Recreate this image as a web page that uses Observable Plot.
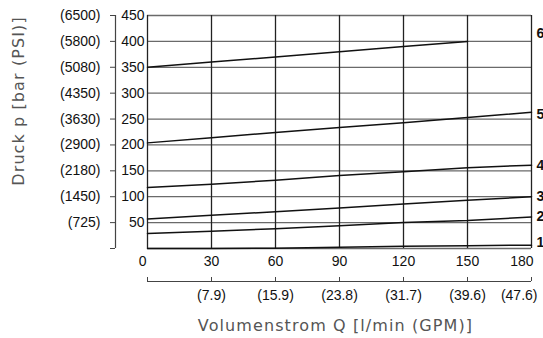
<!DOCTYPE html>
<html><head><meta charset="utf-8">
<script src="https://cdn.jsdelivr.net/npm/d3@7"></script>
<script src="https://cdn.jsdelivr.net/npm/@observablehq/plot@0.6"></script>
<style>
body{margin:0;background:#fff}
#chart svg{display:block}
</style>
</head><body><div id="chart"></div>
<script>
// ---- data ----
const flow = [0, 30, 60, 90, 120, 150, 180];            // l/min
const pressureTicks = [0, 50, 100, 150, 200, 250, 300, 350, 400, 450]; // bar
const psiLabels = ["", "(725)", "(1450)", "(2180)", "(2900)", "(3630)", "(4350)", "(5080)", "(5800)", "(6500)"];
const gpmLabels = ["", "(7.9)", "(15.9)", "(23.8)", "(31.7)", "(39.6)", "(47.6)"];
const curveNames = ["1", "2", "3", "4", "5", "6"];
const curve1 = [0, 0, 0.5, 2.5, 4.5, 5.5, 6.5];
const curve2 = [29, 33.5, 38, 44, 50, 54, 61];
const curve3 = [57, 64, 71, 78, 86, 93, 100];
const curve4 = [118, 124, 132, 141, 148, 156, 161];
const curve5 = [204, 214, 224, 233.5, 243, 253, 263];
const curve6 = [350, 360, 370, 380, 390, 400, null];
const labelPressure = [12, 61, 100, 161, 258, 416];
const xTitle = "Volumenstrom Q [l/min (GPM)]";
const yTitle = "Druck p [bar (PSI)]";

// ---- build tables ----
const curves = [curve1, curve2, curve3, curve4, curve5, curve6];
const rows = [];
curves.forEach((c, k) => c.forEach((p, i) => rows.push({curve: curveNames[k], q: flow[i], p})));
const psiMap = new Map(pressureTicks.map((d, i) => [d, psiLabels[i]]));
const gpmMap = new Map(flow.map((d, i) => [d, gpmLabels[i]]));
const endLabels = curveNames.map((n, i) => ({name: n, q: flow[flow.length - 1], p: labelPressure[i]}));

const tickFont = "Liberation Sans, Arial, sans-serif";
const titleFont = "DejaVu Sans, Verdana, sans-serif";
const chart = Plot.plot({
  width: 543,
  height: 338,
  marginLeft: 147,
  marginRight: 12,
  marginTop: 15,
  marginBottom: 90,
  style: {fontFamily: tickFont, fontSize: "14px", color: "#111", background: "#fff", overflow: "visible"},
  x: {domain: [0, 180]},
  y: {domain: [0, 450]},
  marks: [
    Plot.ruleY(pressureTicks, {stroke: "#6a6a6a", strokeWidth: 1.3}),
    Plot.ruleX(flow, {stroke: "#222", strokeWidth: 1.3}),
    Plot.line(rows, {x: "q", y: "p", z: "curve", stroke: "#111", strokeWidth: 1.5}),
    // inner bar labels
    Plot.axisY({ticks: pressureTicks.slice(1), tickSize: 0, tickPadding: 3, fontSize: 14, label: null}),
    // outer PSI axis
    Plot.ruleX([0], {y1: 0, y2: 450, dx: -32, stroke: "#444", strokeWidth: 1.2}),
    Plot.axisY({ticks: pressureTicks, tickFormat: d => psiMap.get(d), tickSize: 5, tickPadding: 10, dx: -32, stroke: "#444", fontSize: 14, label: null}),
    // x axis labels
    Plot.axisX({ticks: flow.slice(1, 6), tickSize: 0, tickPadding: 8, fontSize: 14, label: null}),
    Plot.axisX({ticks: [0], tickSize: 0, tickPadding: 8, textAnchor: "end", dx: -1, fontSize: 14, label: null}),
    Plot.axisX({ticks: [180], tickSize: 0, tickPadding: 8, textAnchor: "end", dx: 2, fontSize: 14, label: null}),
    // GPM axis
    Plot.ruleY([0], {dy: 33, stroke: "#444", strokeWidth: 1.2}),
    Plot.axisX({ticks: flow, tickSize: 4, tickFormat: () => "", dy: 29, stroke: "#444", label: null}),
    Plot.axisX({ticks: flow.slice(1, 6), tickFormat: d => gpmMap.get(d), tickSize: 0, tickPadding: 9, dy: 33, fontSize: 14, label: null}),
    Plot.axisX({ticks: [180], tickFormat: d => gpmMap.get(d), tickSize: 0, tickPadding: 9, dy: 33, textAnchor: "end", dx: 6, fontSize: 14, label: null}),
    // curve numbers
    Plot.text(endLabels, {x: "q", y: "p", text: "name", textAnchor: "start", dx: 5, fontFamily: "Liberation Sans Narrow, Liberation Sans, sans-serif", fontWeight: "bold", fontSize: 14, fill: "#111"}),
    // titles
    Plot.text([xTitle], {frameAnchor: "bottom", textAnchor: "middle", lineAnchor: "middle", dx: -4, dy: 77, fontFamily: titleFont, fontWeight: 400, fontSize: 16, fill: "#555"}),
    Plot.text([yTitle], {frameAnchor: "left", textAnchor: "middle", lineAnchor: "middle", rotate: -90, dx: -129, dy: -31, fontFamily: titleFont, fontWeight: 400, fontSize: 16, fill: "#555"})
  ]
});
d3.select(chart).selectAll("text")
  .filter(function () { return this.textContent === xTitle || this.textContent === yTitle; })
  .style("letter-spacing", "1.1px");
document.getElementById("chart").appendChild(chart);
</script>
</body></html>
